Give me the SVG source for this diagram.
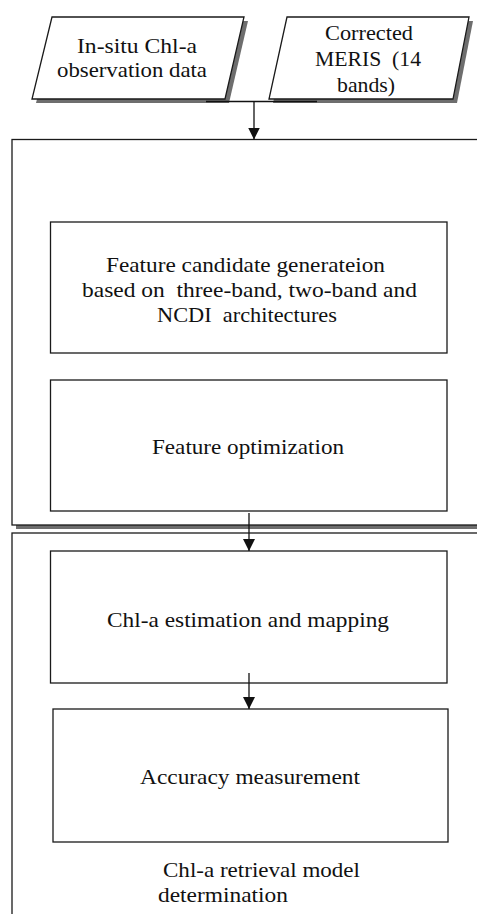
<svg xmlns="http://www.w3.org/2000/svg" width="477" height="914" viewBox="0 0 477 914">
<style>
.box{fill:#fff;stroke:#1a1a1a;stroke-width:1.3}
.shadow{fill:#6e6e6e;stroke:none}
.t{font-family:"Liberation Serif","Times New Roman",serif;font-size:22px;fill:#111;white-space:pre}
.conn{stroke:#111;stroke-width:1.3;fill:none}
</style>
<defs>
<marker id="arrow" markerUnits="userSpaceOnUse" viewBox="0 0 12 12" refX="12" refY="6" markerWidth="12" markerHeight="12" orient="auto">
<path d="M0,0 L12,6 L0,12 z" fill="#111"/>
</marker>
</defs>
<rect width="477" height="914" fill="#fff"/>

<g id="group-feature">
<rect class="shadow" x="16" y="143.5" width="500" height="385.5"/>
<rect class="box" x="12" y="139.5" width="500" height="385.5"/>
</g>
<g id="group-retrieval">
<rect class="box" x="12" y="533" width="500" height="420"/>
<text class="t" x="163" y="877" textLength="197" lengthAdjust="spacingAndGlyphs">Chl-a retrieval model</text>
<text class="t" x="158" y="902" textLength="130" lengthAdjust="spacingAndGlyphs">determination</text>
</g>

<g id="insitu">
<polygon class="shadow" points="56,21 248,21 229,103 36,103"/>
<polygon class="box" points="52,17 244,17 225,99 32,99"/>
<text class="t" x="77" y="52.5" textLength="120" lengthAdjust="spacingAndGlyphs">In-situ Chl-a</text>
<text class="t" x="57" y="77" textLength="150" lengthAdjust="spacingAndGlyphs">observation data</text>
</g>

<g id="meris">
<polygon class="shadow" points="291,21 473,21 457,103 273,103"/>
<polygon class="box" points="287,17 469,17 453,99 269,99"/>
<text class="t" x="325" y="39.5" textLength="88" lengthAdjust="spacingAndGlyphs">Corrected</text>
<text class="t" x="315" y="66" textLength="106" lengthAdjust="spacingAndGlyphs">MERIS  (14</text>
<text class="t" x="337" y="92" textLength="58" lengthAdjust="spacingAndGlyphs">bands)</text>
</g>

<g id="candidate">
<rect class="box" x="50.5" y="222" width="396.5" height="131"/>
<text class="t" x="106" y="272" textLength="279" lengthAdjust="spacingAndGlyphs">Feature candidate generateion</text>
<text class="t" x="82" y="297" textLength="335" lengthAdjust="spacingAndGlyphs">based on  three-band, two-band and</text>
<text class="t" x="157" y="322" textLength="180" lengthAdjust="spacingAndGlyphs">NCDI  architectures</text>
</g>

<g id="optimization">
<rect class="box" x="50.5" y="380" width="396.5" height="131"/>
<text class="t" x="152" y="454" textLength="192" lengthAdjust="spacingAndGlyphs">Feature optimization</text>
</g>

<g id="estimation">
<rect class="box" x="50.5" y="551" width="396.5" height="132"/>
<text class="t" x="107" y="627" textLength="282" lengthAdjust="spacingAndGlyphs">Chl-a estimation and mapping</text>
</g>

<g id="accuracy">
<rect class="box" x="53" y="709" width="395" height="133"/>
<text class="t" x="140" y="784" textLength="220" lengthAdjust="spacingAndGlyphs">Accuracy measurement</text>
</g>

<g id="connectors">
<line class="conn" x1="206" y1="101.5" x2="317" y2="101.5"/>
<line class="conn" x1="254" y1="101.5" x2="254" y2="139.5" marker-end="url(#arrow)"/>
<line class="conn" x1="249" y1="513" x2="249" y2="551" marker-end="url(#arrow)"/>
<line class="conn" x1="249" y1="673" x2="249" y2="709" marker-end="url(#arrow)"/>
</g>
</svg>
